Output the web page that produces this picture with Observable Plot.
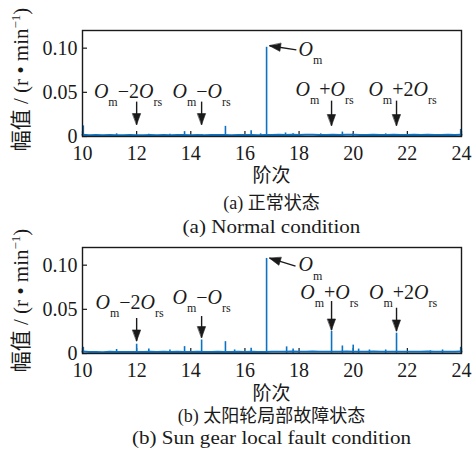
<!DOCTYPE html>
<html><head><meta charset="utf-8">
<script src="https://cdn.jsdelivr.net/npm/d3@7"></script>
<script src="https://cdn.jsdelivr.net/npm/@observablehq/plot@0.6"></script>
<style>
body{margin:0;background:#fff;}
#chart{position:relative;width:475px;height:453px;background:#fff;overflow:hidden;}
.panel{position:absolute;left:0;}
.cap{position:absolute;left:82px;width:379px;text-align:center;font-family:'Liberation Serif','Noto Sans CJK SC',serif;color:#1a1a1a;white-space:nowrap;line-height:1;}
.en{transform:scaleX(1.17);}
.it{font-style:italic;font-family:'Liberation Serif',serif;}
</style></head><body><div id="chart"></div>
<script>
// ---- data ----
const xTicks = [10, 12, 14, 16, 18, 20, 22, 24];
const yTicks = [0, 0.05, 0.10];
const yTickLabels = ["0", "0.05", "0.10"];
const yLabel = "幅值 / (r • min^−1^)";
const xLabel = "阶次";

const floorOrders = [10, 10.25, 10.5, 10.75, 11, 11.25, 11.5, 11.75, 12, 12.25,
  12.5, 12.75, 13, 13.25, 13.5, 13.75, 14, 14.25, 14.5, 14.75,
  15, 15.25, 15.5, 15.75, 16, 16.25, 16.5, 16.75, 17, 17.25,
  17.5, 17.75, 18, 18.25, 18.5, 18.75, 19, 19.25, 19.5, 19.75,
  20, 20.25, 20.5, 20.75, 21, 21.25, 21.5, 21.75, 22, 22.25,
  22.5, 22.75, 23, 23.25, 23.5, 23.75, 24];
const floorA = [0.0020, 0.0014, 0.0016, 0.0013, 0.0017, 0.0015, 0.0014, 0.0016, 0.0013, 0.0015,
  0.0017, 0.0014, 0.0016, 0.0015, 0.0018, 0.0016, 0.0014, 0.0017, 0.0015, 0.0016,
  0.0018, 0.0016, 0.0015, 0.0017, 0.0016, 0.0018, 0.0015, 0.0016, 0.0017, 0.0019,
  0.0018, 0.0020, 0.0017, 0.0019, 0.0021, 0.0018, 0.0017, 0.0019, 0.0018, 0.0020,
  0.0019, 0.0017, 0.0018, 0.0020, 0.0018, 0.0017, 0.0019, 0.0018, 0.0017, 0.0019,
  0.0018, 0.0020, 0.0018, 0.0017, 0.0019, 0.0018, 0.0020];
const floorB = [0.0022, 0.0016, 0.0018, 0.0015, 0.0019, 0.0017, 0.0016, 0.0018, 0.0016, 0.0018,
  0.0020, 0.0016, 0.0019, 0.0017, 0.0020, 0.0018, 0.0017, 0.0019, 0.0017, 0.0018,
  0.0020, 0.0018, 0.0017, 0.0019, 0.0018, 0.0020, 0.0017, 0.0018, 0.0019, 0.0021,
  0.0020, 0.0022, 0.0019, 0.0021, 0.0022, 0.0020, 0.0019, 0.0021, 0.0020, 0.0022,
  0.0021, 0.0019, 0.0020, 0.0022, 0.0020, 0.0019, 0.0021, 0.0020, 0.0019, 0.0021,
  0.0020, 0.0022, 0.0020, 0.0019, 0.0021, 0.0020, 0.0022];

const spikeOrdersA = [10.03, 11.26, 12.0, 12.45, 13.23, 13.77, 14.4, 15.28, 16.23, 16.58, 16.8, 17.5, 17.78, 18.8, 19.2, 19.6, 20.0, 21.2, 21.6, 23.97];
const spikeAmpsA   = [0.012, 0.003, 0.002, 0.0025, 0.0025, 0.0055, 0.002, 0.0115, 0.0065, 0.003, 0.101, 0.004, 0.003, 0.003, 0.002, 0.005, 0.003, 0.003, 0.002, 0.008];
const spikeOrdersB = [10.03, 11.26, 12.0, 12.45, 13.23, 13.77, 14.4, 15.28, 15.62, 16.23, 16.8, 17.54, 17.78, 19.2, 19.6, 20.0, 20.2, 20.6, 21.2, 21.6, 22.85, 23.3, 23.97];
const spikeAmpsB   = [0.007, 0.0045, 0.0105, 0.005, 0.004, 0.0078, 0.0153, 0.0134, 0.004, 0.006, 0.1076, 0.0075, 0.005, 0.025, 0.0085, 0.0095, 0.005, 0.004, 0.004, 0.023, 0.003, 0.004, 0.007];

// annotations
const sideLabels = ["*O*_m_−2*O*_rs_", "*O*_m_−*O*_rs_", "*O*_m_+*O*_rs_", "*O*_m_+2*O*_rs_"];
const mainLabel = "*O*_m_";
const arrowX = [12.0, 14.4, 19.2, 21.6];
const labelXA = [11.68, 14.40, 18.94, 21.82];
const labelYA = [0.044, 0.044, 0.0463, 0.0463];
const arrowTailA = [0.0395, 0.0395, 0.0406, 0.0406];
const arrowTipA = [0.0135, 0.0135, 0.0124, 0.0124];
const mainA = {lx: 17.98, ly: 0.0914, tx: 17.9, ty: 0.098, hx: 16.91, hy: 0.1027, rot: -81.6};
const labelXB = [11.74, 14.40, 19.12, 21.84];
const labelYB = [0.0507, 0.056, 0.062, 0.0616];
const arrowTailB = [0.0402, 0.0424, 0.0594, 0.0518];
const arrowTipB = [0.0142, 0.018, 0.0266, 0.0255];
const mainB = {lx: 17.98, ly: 0.0932, tx: 17.87, ty: 0.0989, hx: 16.91, hy: 0.1079, rot: -72.9};

const captionsA = ["(a) 正常状态", "(a) Normal condition"];
const captionsB = ["(b) 太阳轮局部故障状态", "(b) Sun gear local fault condition"];

// ---- drawing ----
const BLUE = "#0e72c0";
const INK = "#1a1a1a";
const headShape = {draw(ctx, l) { ctx.moveTo(0, -l); ctx.lineTo(-4, 0); ctx.lineTo(4, 0); ctx.closePath(); }};

function richText(svg) {
  d3.select(svg).selectAll("text").each(function () {
    const s = this.textContent;
    if (!/[*_^]/.test(s)) return;
    const big = parseFloat(this.getAttribute("font-size") || this.parentNode.getAttribute("font-size")) || 20;
    const parts = s.split(/(\*[^*]+\*|_[^_]+_|\^[^^]+\^)/).filter(p => p);
    const el = d3.select(this);
    el.selectAll("*").remove();
    el.text(null);
    let off = 0;
    for (const p of parts) {
      let t = p, shift = 0, italic = false, small = false;
      if (p[0] === "*") { t = p.slice(1, -1); italic = true; }
      else if (p[0] === "_") { t = p.slice(1, -1); shift = big * 0.42; small = true; }
      else if (p[0] === "^") { t = p.slice(1, -1); shift = -big * 0.4; small = true; }
      const ts = el.append("tspan").text(t);
      if (italic) ts.attr("class", "it").attr("font-style", "italic").style("font-style", "italic");
      if (small) ts.attr("font-size", Math.round(big * 0.6));
      if (shift - off !== 0) ts.attr("dy", shift - off);
      off = shift;
    }
  });
}

function panel(floor, spikeOrders, spikeAmps, labelX, labelY, tail, tip, main, labelDy) {
  const svg = Plot.plot({
    width: 475, height: 170,
    marginLeft: 82, marginRight: 14, marginTop: 30, marginBottom: 34,
    x: {domain: [10, 24]},
    y: {domain: [0, 0.12]},
    style: {fontFamily: "'Liberation Serif','Noto Sans CJK SC',serif", fontSize: "20px", color: INK, background: "transparent", overflow: "visible"},
    marks: [
      Plot.ruleX(xTicks, {x: d => d, insetTop: 101, stroke: INK, strokeWidth: 1.2}),
      Plot.ruleY(yTicks, {y: d => d, insetRight: 374, stroke: INK, strokeWidth: 1.2}),
      Plot.lineY(floorOrders.map((o, i) => ({o, v: floor[i]})), {x: "o", y: "v", stroke: BLUE, strokeWidth: 2}),
      Plot.ruleX(spikeOrders.map((o, i) => ({o, v: spikeAmps[i]})), {x: "o", y1: 0, y2: "v", stroke: BLUE, strokeWidth: 1.6}),
      Plot.axisX({ticks: xTicks, tickSize: 0, tickPadding: 9, label: null, fontSize: 20, tickFormat: d => String(d)}),
      Plot.axisY({ticks: yTicks, tickSize: 0, tickPadding: 5, label: null, fontSize: 20, tickFormat: d => yTickLabels[yTicks.indexOf(d)]}),
      Plot.text([yLabel], {text: d => d, frameAnchor: "left", dx: -61, dy: labelDy, rotate: -90, fontSize: 21, textAnchor: "middle", lineAnchor: "middle", fill: INK}),
      // side arrows
      Plot.link(arrowX.map((x, i) => ({x, y1: tail[i], y2: tip[i]})), {x1: "x", x2: "x", y1: "y1", y2: "y2", stroke: INK, strokeWidth: 1.4}),
      Plot.vector(arrowX.map((x, i) => ({x, y: tip[i]})), {x: "x", y: "y", length: 11, rotate: 180, anchor: "end", shape: headShape, fill: INK, stroke: INK, strokeWidth: 0.6}),
      Plot.text(sideLabels.map((t, i) => ({t, x: labelX[i], y: labelY[i]})), {x: "x", y: "y", text: "t", fontSize: 20, textAnchor: "middle", lineAnchor: "bottom", fill: INK}),
      // main arrow
      Plot.link([main], {x1: "tx", y1: "ty", x2: "hx", y2: "hy", stroke: INK, strokeWidth: 1.4}),
      Plot.vector([main], {x: "hx", y: "hy", length: 11, rotate: main.rot, anchor: "end", shape: headShape, fill: INK, stroke: INK, strokeWidth: 0.6}),
      Plot.text([main], {x: "lx", y: "ly", text: () => mainLabel, fontSize: 20, textAnchor: "start", lineAnchor: "bottom", fill: INK}),
      Plot.frame({stroke: INK, strokeWidth: 1.4})
    ]
  });
  richText(svg);
  return svg;
}

const chart = document.getElementById("chart");
function addPanel(svg, top) {
  svg.classList.add("panel");
  svg.style.top = top + "px";
  chart.appendChild(svg);
}
function addCap(text, top, size, cls) {
  const d = document.createElement("div");
  d.className = "cap" + (cls ? " " + cls : "");
  d.style.top = top + "px";
  d.style.fontSize = size + "px";
  d.textContent = text;
  chart.appendChild(d);
}

addPanel(panel(floorA, spikeOrdersA, spikeAmpsA, labelXA, labelYA, arrowTailA, arrowTipA, mainA, -4), 0);
addPanel(panel(floorB, spikeOrdersB, spikeAmpsB, labelXB, labelYB, arrowTailB, arrowTipB, mainB, 0), 217);

addCap(xLabel, 166, 19);
addCap(captionsA[0], 194, 18);
addCap(captionsA[1], 218, 18, "en");
addCap(xLabel, 384, 19);
addCap(captionsB[0], 407, 18);
addCap(captionsB[1], 429, 18, "en");
</script></body></html>
